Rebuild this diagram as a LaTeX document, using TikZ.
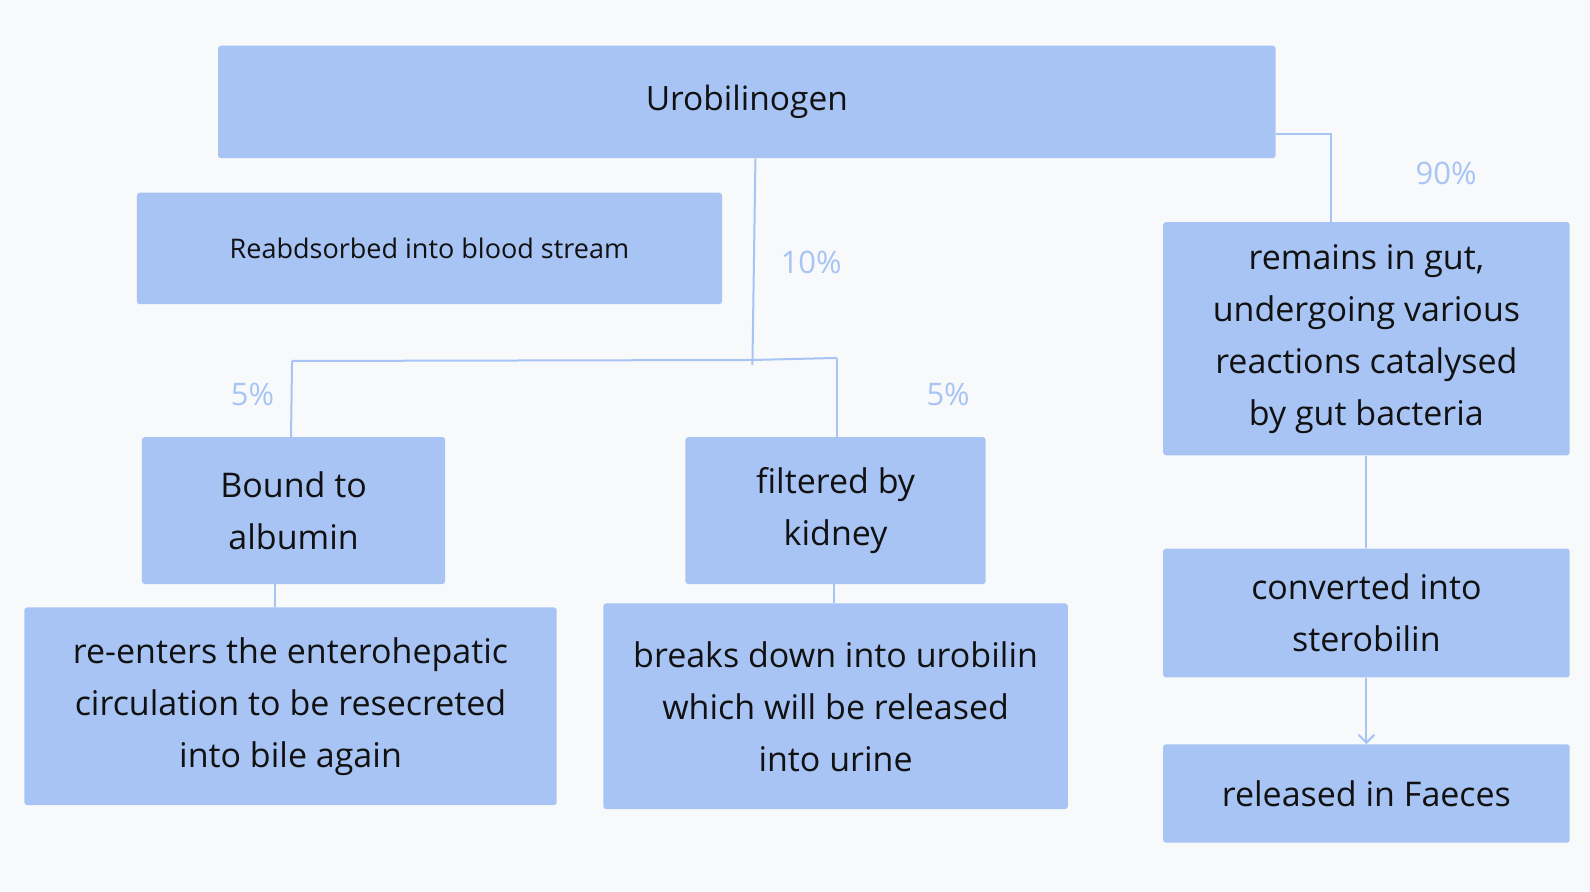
\documentclass[tikz,border=0pt]{standalone}
\usepackage{fontspec}
\setmainfont{Open Sans}
\usetikzlibrary{arrows.meta}
\definecolor{boxc}{HTML}{A7C4F5}
\definecolor{bgc}{HTML}{F7F9FB}
\definecolor{linec}{HTML}{A8C4F4}
\definecolor{txt}{HTML}{111111}
\newcommand{\bx}[6]{\node[box,minimum width=1.014pt*(#4-#2),minimum height=1.014pt*(#5-#3)] (#1) at ({(#2+#4)/2},{(#3+#5)/2}) {#6};}
\begin{document}
\begin{tikzpicture}[x=1.014pt,y=-1.014pt,
  box/.style={fill=boxc,rounded corners=3pt,inner sep=0pt,align=center,text=txt,font=\fontsize{34}{52}\selectfont},
  ln/.style={draw=linec,line width=2pt},
  pct/.style={text=linec,font=\fontsize{31}{34}\selectfont}]
\fill[bgc] (0,0) rectangle (1568,879);
\useasboundingbox (0,0) rectangle (1568,879);
\bx{uro}{215}{45}{1258}{156}{\fontsize{33.5}{40}\selectfont Urobilinogen}
\bx{rea}{135}{190}{712}{300}{\fontsize{27}{30}\selectfont Reabdsorbed into blood stream}
\bx{rem}{1147}{219}{1548}{449}{remains in gut,\\undergoing various\\reactions catalysed\\by gut bacteria}
\bx{bou}{140}{431}{439}{576}{Bound to\\albumin}
\bx{fil}{676}{431}{972}{576}{filtered by\\kidney}
\bx{ree}{24}{599}{549}{794}{re-enters the enterohepatic\\circulation to be resecreted\\into bile again}
\bx{bre}{595}{595}{1053}{798}{breaks down into urobilin\\which will be released\\into urine}
\bx{con}{1147}{541}{1548}{668}{converted into\\sterobilin}
\bx{rel}{1147}{734}{1548}{831}{released in Faeces}
\coordinate (j1) at (742,360);
\coordinate (hl) at (288,356);
\coordinate (hr) at (825,353);
\coordinate (k1) at (1313,132);
\draw[ln] (uro.south -| 745,0) -- (j1);
\draw[ln] (hl) -- (742,355) -- (hr);
\draw[ln] (hl) -- (bou.north -| 287,0);
\draw[ln] (hr) -- (fil.north -| hr);
\draw[ln] (uro.east |- k1) -- (k1) -- (rem.north -| k1);
\draw[ln] (rem.south) -- (con.north);
\draw[ln] (bou.south -| 271,0) -- (ree.north -| 271,0);
\draw[ln] (fil.south -| 822,0) -- (bre.north -| 822,0);
\draw[ln,-{Straight Barb[length=8pt,width=16pt]}] (con.south) -- (rel.north);
\node[pct] (p90) at (1426,171) {90\%};
\node[pct] (p10) at (800,259) {10\%};
\node[pct] (p5a) at (249,389) {5\%};
\node[pct] (p5b) at (935,389) {5\%};
\end{tikzpicture}
\end{document}
